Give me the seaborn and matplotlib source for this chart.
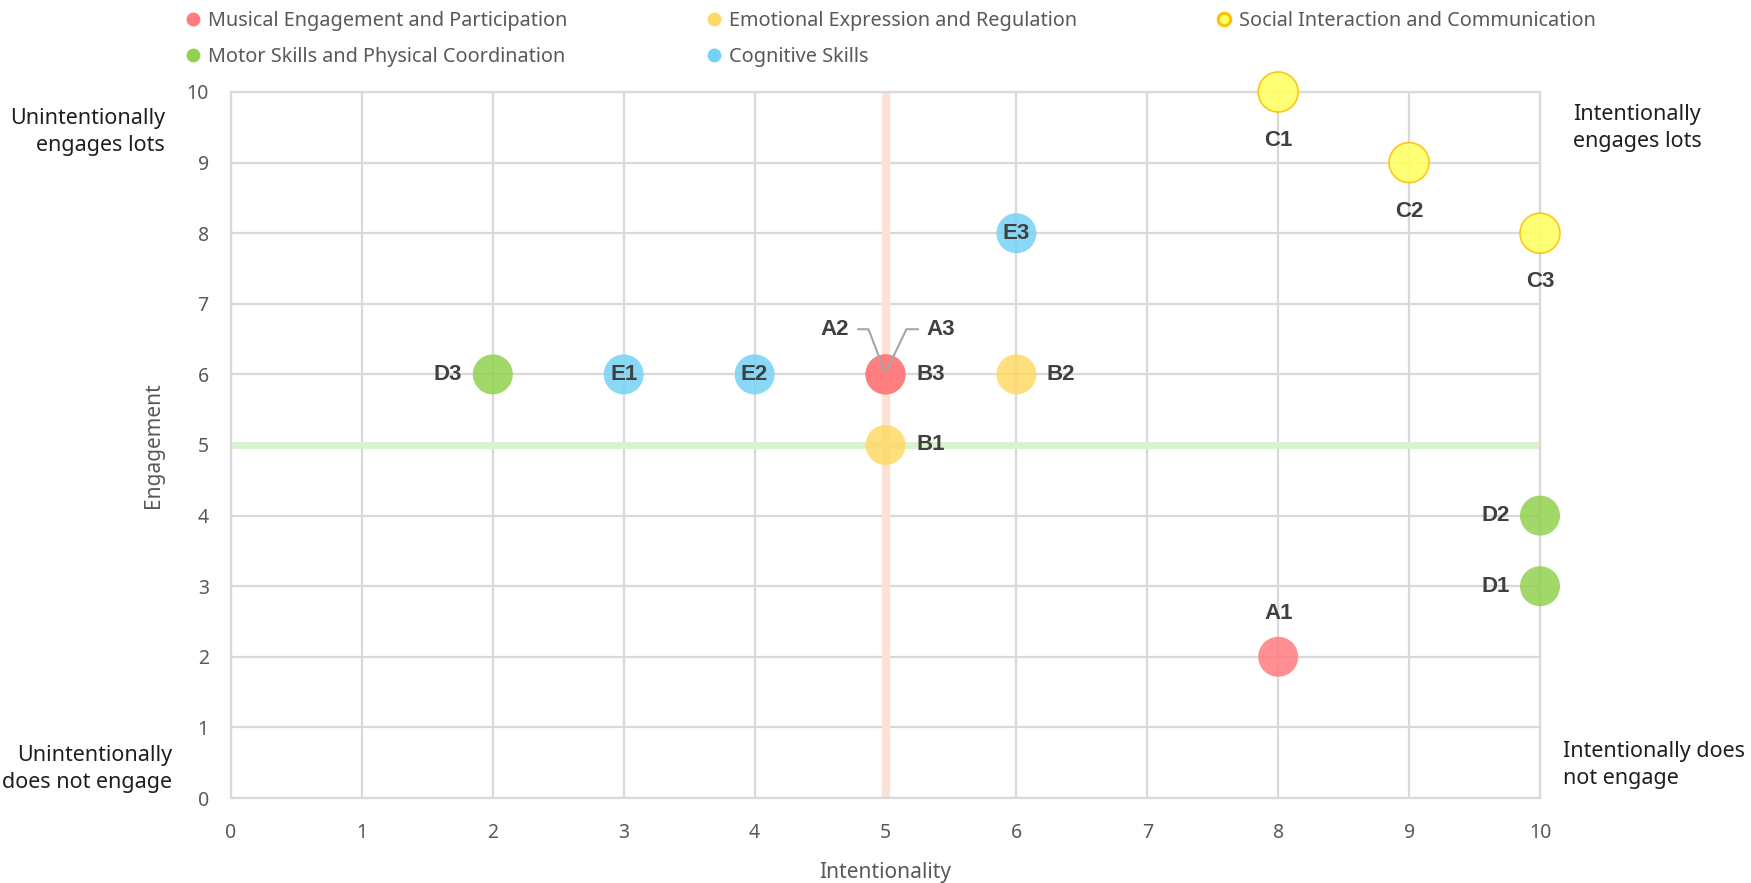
import numpy as np
import pandas as pd
import matplotlib
matplotlib.use("Agg")
import matplotlib.pyplot as plt
from matplotlib.lines import Line2D
import seaborn as sns

# data
point_labels = ["A1", "A2", "A3", "B1", "B2", "B3", "C1", "C2", "C3",
                "D1", "D2", "D3", "E1", "E2", "E3"]
intentionality = [8, 5, 5, 5, 6, 5, 8, 9, 10, 10, 10, 2, 3, 4, 6]
engagement = [2, 6, 6, 5, 6, 6, 10, 9, 8, 3, 4, 6, 6, 6, 8]

categories = ["Musical Engagement and Participation",
              "Emotional Expression and Regulation",
              "Social Interaction and Communication",
              "Motor Skills and Physical Coordination",
              "Cognitive Skills"]
letter_to_cat = dict(zip("ABCDE", categories))
cat_colors = ["#FF7C80", "#FFD966", "#FFFF66", "#92D050", "#75D2F5"]
palette = dict(zip(categories, cat_colors))

corner_notes = ["Unintentionally\nengages lots", "Intentionally\nengages lots",
                "Unintentionally\ndoes not engage", "Intentionally does\nnot engage"]

df = pd.DataFrame({"label": point_labels, "x": intentionality, "y": engagement})
df["category"] = df["label"].str[0].map(letter_to_cat)
# draw B before A so the overlapping point reads like the reference
order = ["B", "C", "D", "E", "A"]
df["k"] = df["label"].str[0].map({l: i for i, l in enumerate(order)})
df = df.sort_values("k", kind="stable")

sns.set_theme(style="white")
plt.rcParams["font.family"] = ["Noto Sans", "DejaVu Sans"]

W, H = 1751, 883
fig = plt.figure(figsize=(W / 100, H / 100), dpi=100)
ax = fig.add_axes([231 / W, 1 - 798 / H, (1540 - 231) / W, (798 - 92) / H])

ax.set_xlim(0, 10)
ax.set_ylim(0, 10)
ax.set_xticks(range(0, 11))
ax.set_yticks(range(0, 11))
ax.grid(True, color="#D9D9D9", lw=1.6, zorder=0)
ax.set_axisbelow(True)
for s in ax.spines.values():
    s.set_color("#D9D9D9")
    s.set_linewidth(1.6)

ax.axvline(5, color="#FBE2D5", lw=6, zorder=1)
ax.axhline(5, color="#DAF2D0", lw=5, zorder=1)

normal = df[df["category"] != categories[2]]
social = df[df["category"] == categories[2]]
sns.scatterplot(data=normal, x="x", y="y", hue="category", palette=palette,
                s=830, alpha=0.85, linewidth=0, legend=False, ax=ax, zorder=3,
                clip_on=False)
sns.scatterplot(data=social, x="x", y="y", hue="category", palette=palette,
                s=830, alpha=0.9, edgecolor="#FFC000", linewidth=1.2,
                legend=False, ax=ax, zorder=3, clip_on=False)

bold_font = ["Liberation Sans", "DejaVu Sans"]
lab_kw = dict(fontsize=16, fontweight="bold", color="#404040", zorder=5,
              textcoords="offset points", va="center", family=bold_font)
# where each label sits relative to its point
place = {"A1": (0, 31, "center"), "B1": (22, 0, "left"), "B2": (22, 0, "left"),
         "B3": (22, 0, "left"), "C1": (0, -35, "center"), "C2": (0, -35, "center"),
         "C3": (0, -35, "center"), "D1": (-22, 0, "right"), "D2": (-22, 0, "right"),
         "D3": (-22, 0, "right"), "E1": (0, 0, "center"), "E2": (0, 0, "center"),
         "E3": (0, 0, "center")}
for _, r in df.iterrows():
    if r["label"] in place:
        dx, dy, ha = place[r["label"]]
        ax.annotate(r["label"], (r["x"], r["y"]), xytext=(dx, dy), ha=ha, **lab_kw)

# leader lines for the two hidden points
ax.plot([4.79, 4.87, 4.99], [6.64, 6.64, 6.06], color="#A6A6A6", lw=1.5, zorder=4)
ax.plot([5.25, 5.16, 5.01], [6.64, 6.64, 6.06], color="#A6A6A6", lw=1.5, zorder=4)
ax.text(4.61, 6.64, "A2", ha="center", va="center", fontsize=16,
        fontweight="bold", color="#404040", zorder=5, family=bold_font)
ax.text(5.42, 6.64, "A3", ha="center", va="center", fontsize=16,
        fontweight="bold", color="#404040", zorder=5, family=bold_font)

ax.tick_params(axis="both", length=0, labelsize=14, labelcolor="#595959")
ax.tick_params(axis="x", pad=18)
ax.tick_params(axis="y", pad=16)
ax.set_xlabel("Intentionality", fontsize=15, color="#595959", labelpad=14)
ax.set_ylabel("Engagement", fontsize=15, color="#595959", labelpad=16)

note_kw = dict(fontsize=15.5, color="#1F1F1F", linespacing=1.35)
fig.text(165 / W, 1 - 132 / H, corner_notes[0], ha="right", va="center", **note_kw)
fig.text(1573 / W, 1 - 128 / H, corner_notes[1], ha="left", va="center", **note_kw)
fig.text(172 / W, 1 - 769 / H, corner_notes[2], ha="right", va="center", **note_kw)
fig.text(1563 / W, 1 - 765 / H, corner_notes[3], ha="left", va="center", **note_kw)

# legend, row-major like the original
handles = []
for c in categories:
    if c == categories[2]:
        h = Line2D([], [], ls="", marker="o", ms=9, mfc="#FFFF66",
                   mec="#FFC000", mew=2.2)
    else:
        h = Line2D([], [], ls="", marker="o", ms=10, mfc=palette[c], mec="none")
    handles.append(h)
idx = [0, 3, 1, 4, 2]
fig.legend([handles[i] for i in idx], [categories[i] for i in idx],
           loc="upper left", bbox_to_anchor=(165 / W, 1.008), ncol=3,
           frameon=False, handletextpad=0.25, columnspacing=6.9,
           labelspacing=0.8, handlelength=1.0,
           prop={"family": ["Noto Sans"], "size": 14.3},
           labelcolor="#595959")

fig.savefig("out.png", dpi=100)
